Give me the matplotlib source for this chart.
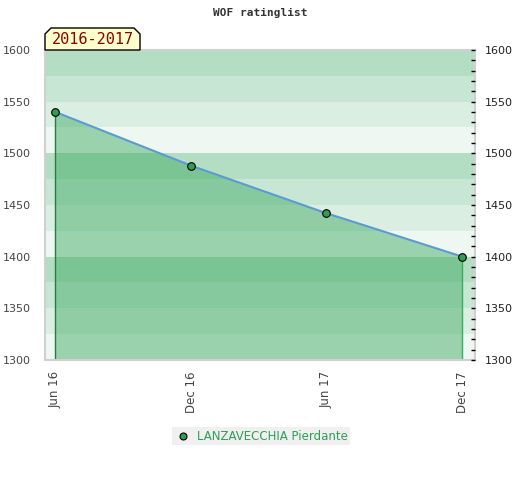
import numpy as np
import matplotlib
matplotlib.use("Agg")
import matplotlib.pyplot as plt
import matplotlib.dates as mdates
from matplotlib.patches import Polygon
from matplotlib.lines import Line2D
from datetime import datetime

# === Data ===
dates = [datetime(2016, 6, 1), datetime(2016, 12, 1), datetime(2017, 6, 1), datetime(2017, 12, 1)]
ratings = [1540, 1488, 1442, 1400]
tick_labels = ["Jun 16", "Dec 16", "Jun 17", "Dec 17"]
player = "LANZAVECCHIA Pierdante"
period = "2016-2017"

# band colours, darkest first in each 100 block
band_cols = ["#b3dec3", "#c8e6d4", "#daeee2", "#eef7f1"]

fig = plt.figure(figsize=(5.2, 4.8), dpi=100)
ax = fig.add_axes([45 / 520, 120 / 480, 430 / 520, 310 / 480])

ymin, ymax = 1300, 1600
x0 = mdates.date2num(datetime(2016, 5, 18))
x1 = mdates.date2num(datetime(2017, 12, 18))
ax.set_xlim(x0, x1)
ax.set_ylim(ymin, ymax)

# === Background bands ===
for i, lo in enumerate(range(ymax - 25, ymin - 1, -25)):
    ax.axhspan(lo, lo + 25, color=band_cols[i % 4], lw=0, zorder=0)

# === Fill under line ===
xn = mdates.date2num(dates)
ax.fill_between(xn, ratings, ymin, color="#3da962", alpha=0.47, lw=0, zorder=1)
ax.plot([xn[0], xn[0]], [ymin, ratings[0]], color="#2b7a45", lw=1, zorder=2)
ax.plot([xn[-1], xn[-1]], [ymin, ratings[-1]], color="#33b060", lw=1, zorder=2)
ax.plot(xn, ratings, color="#5b9bd5", lw=1.5, zorder=3)
ax.plot(xn, ratings, "o", ms=5.5, mfc="#2e9e55", mec="black", mew=0.8, zorder=4)

# === Axes styling ===
for s in ax.spines.values():
    s.set_color("#d0d0d0")
    s.set_linewidth(1.5)

ax.set_xticks(xn)
ax.set_xticklabels(tick_labels, rotation=90, fontsize=8.5, color="#444444")
ax.tick_params(axis="x", length=0, pad=8)

yt = np.arange(ymin, ymax + 1, 50)
ax.set_yticks(yt)
ax.set_yticklabels([str(v) for v in yt], fontsize=8, color="#444444")
ax.tick_params(axis="y", left=False, length=0, pad=10)

ax2 = ax.twinx()
ax2.set_ylim(ymin, ymax)
ax2.set_yticks(yt)
ax2.set_yticklabels([str(v) for v in yt], fontsize=8, color="#222222")
ax2.set_yticks(np.arange(ymin + 10, ymax, 10), minor=True)
ax2.tick_params(axis="y", which="both", direction="in", length=3, width=1, color="black", pad=7)
for s in ax2.spines.values():
    s.set_visible(False)

# === Title ===
fig.text(0.5, 1 - 13 / 480, "WOF ratinglist", ha="center", va="center",
         fontsize=8, family="DejaVu Sans Mono", weight="bold", color="#333333")

# === Period label box (chamfered top corners) ===
bx0, bx1, by0, by1, ch = 45, 140, 480 - 50, 480 - 28, 6
pts = [(bx0, by0), (bx0, by1 - ch), (bx0 + ch, by1), (bx1 - ch, by1), (bx1, by1 - ch), (bx1, by0)]
pts = [(px / 520, py / 480) for px, py in pts]
fig.patches.append(Polygon(pts, closed=True, transform=fig.transFigure,
                           fc="#ffffcc", ec="black", lw=1, zorder=5))
fig.text((bx0 + bx1) / 2 / 520, (by0 + by1) / 2 / 480 - 0.002, period, ha="center", va="center",
         fontsize=11, family="DejaVu Sans Mono", color="#8b0000", zorder=6)

# === Legend ===
fig.patches.append(plt.Rectangle((172 / 520, 1 - 445 / 480), 178 / 520, 18 / 480,
                                 transform=fig.transFigure, fc="#f0f0f0", ec="none"))
fig.lines.append(Line2D([183 / 520], [1 - 436 / 480], transform=fig.transFigure, marker="o",
                        ms=5, mfc="#2e9e55", mec="black", mew=0.8, ls="none"))
fig.text(197 / 520, 1 - 436 / 480, player, ha="left", va="center", fontsize=8.5, color="#2e9e55")

fig.savefig("out.png", dpi=100)
